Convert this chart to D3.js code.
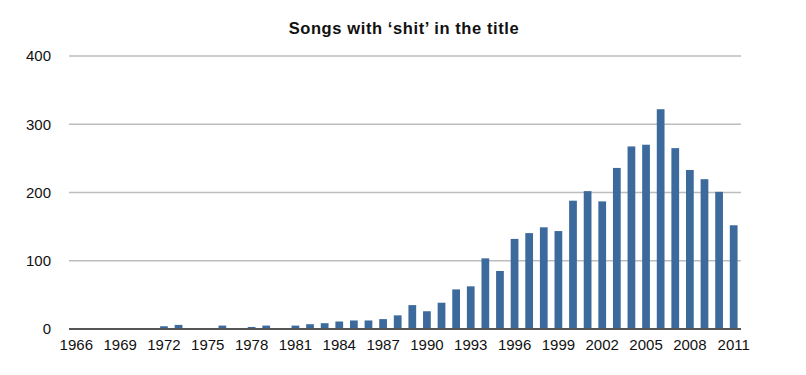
<!DOCTYPE html>
<html>
<head>
<meta charset="utf-8">
<script src="https://cdn.jsdelivr.net/npm/d3@7"></script>
<style>
  body { margin: 0; background: #fff; }
  svg { display: block; font-family: "Liberation Sans", Arial, Helvetica, sans-serif; }
  .axis path { display: none; }
  .axis text { fill: #111; font-size: 15px; }
</style>
</head>
<body>
<svg id="chart" width="806" height="375"></svg>
<script>
// years 1966..2011
var years = d3.range(1966, 2012);
var songCounts = [
  1, 0, 0, 1, 0, 0, 4, 6, 1, 1,
  5, 0, 3, 5, 1, 5, 7, 8.5, 11, 12.5,
  12.5, 14.5, 20, 35, 26, 38.5, 58, 62.5, 103.5, 85,
  132, 140.5, 149, 143.5, 188, 202, 187, 236, 267.5, 270,
  322, 265, 233, 219.5, 201, 152
];
var yTicks = [0, 100, 200, 300, 400];
var yearLabels = years.filter(function (y) { return (y - 1966) % 3 === 0; });
var chartTitle = "Songs with \u2018shit\u2019 in the title";

var svg = d3.select("#chart"),
    plotLeft = 69, plotRight = 741, plotTop = 56, plotBottom = 329;

var x = d3.scaleBand()
    .domain(years)
    .range([plotLeft, plotRight])
    .paddingInner(0.47)
    .paddingOuter(0.235);
var y = d3.scaleLinear().domain([0, 400]).range([plotBottom, plotTop]);

// gridlines
svg.append("g").selectAll("line")
    .data(yTicks.slice(1))
    .enter().append("line")
    .attr("x1", plotLeft).attr("x2", plotRight)
    .attr("y1", function (d) { return y(d); })
    .attr("y2", function (d) { return y(d); })
    .attr("stroke", "#bdbdbd")
    .attr("stroke-width", 1.5);

// bars
svg.append("g").selectAll("rect")
    .data(years)
    .enter().append("rect")
    .attr("x", function (d) { return x(d); })
    .attr("width", x.bandwidth())
    .attr("y", function (d, i) { return y(songCounts[i]); })
    .attr("height", function (d, i) { return plotBottom - y(songCounts[i]); })
    .attr("fill", "#3d6a9c");

// zero line
svg.append("line")
    .attr("x1", plotLeft).attr("x2", plotRight)
    .attr("y1", y(0)).attr("y2", y(0))
    .attr("stroke", "#555")
    .attr("stroke-width", 2);

svg.append("g")
    .attr("class", "axis")
    .attr("transform", "translate(0," + plotBottom + ")")
    .call(d3.axisBottom(x).tickValues(yearLabels).tickSize(0).tickPadding(10));

svg.append("g")
    .attr("class", "axis")
    .attr("transform", "translate(" + plotLeft + ",0)")
    .call(d3.axisLeft(y).tickValues(yTicks).tickSize(0).tickPadding(18));

svg.append("text")
    .attr("x", 404)
    .attr("y", 34)
    .attr("text-anchor", "middle")
    .attr("font-weight", "bold")
    .attr("font-size", "16.5px")
    .attr("letter-spacing", "0.6px")
    .attr("fill", "#111")
    .text(chartTitle);
</script>
</body>
</html>
